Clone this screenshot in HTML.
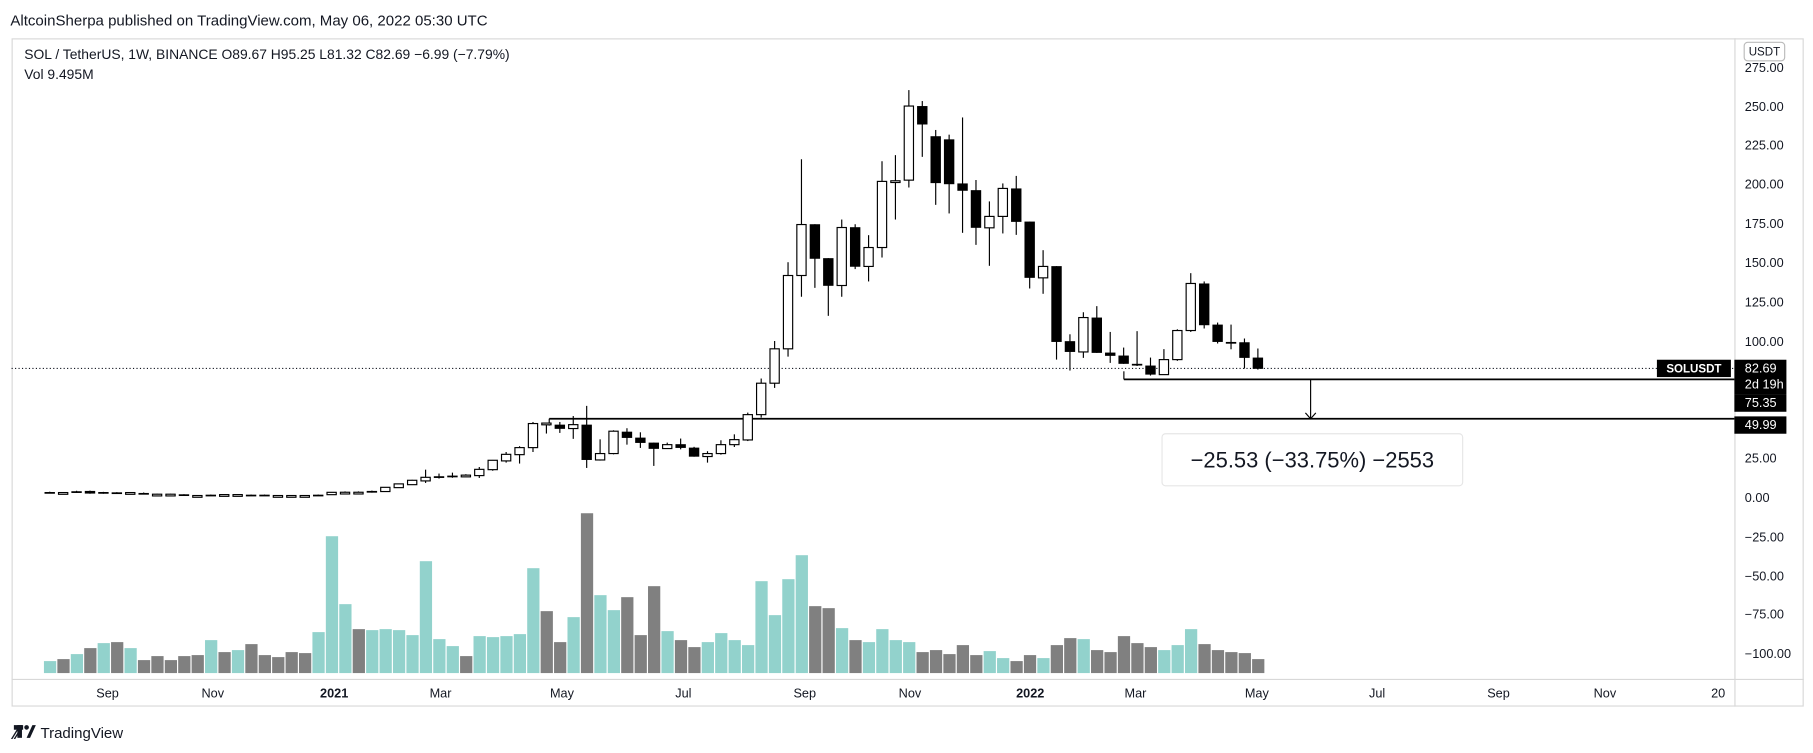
<!DOCTYPE html>
<html><head><meta charset="utf-8"><style>
html,body{margin:0;padding:0;background:#fff;width:1813px;height:753px;overflow:hidden}
svg{display:block}
text{font-family:"Liberation Sans",Arial,sans-serif}
</style></head><body>
<svg id="s" width="1813" height="753" viewBox="0 0 1568 651" xmlns="http://www.w3.org/2000/svg">
<rect width="1568" height="651" fill="#fff"/>
<text x="9" y="22" font-size="13" fill="#131722">AltcoinSherpa published on TradingView.com, May 06, 2022 05:30 UTC</text>
<rect x="10.5" y="33.5" width="1549" height="577" fill="none" stroke="#d8d8d8"/>
<line x1="1500.5" y1="33" x2="1500.5" y2="611" stroke="#d8d8d8"/>
<line x1="10" y1="587.5" x2="1560" y2="587.5" stroke="#d8d8d8"/>
<text x="21" y="51" font-size="12" fill="#131722">SOL / TetherUS, 1W, BINANCE  O89.67  H95.25  L81.32  C82.69  −6.99 (−7.79%)</text>
<text x="21" y="68" font-size="12" fill="#131722">Vol  9.495M</text>
<rect x="1508.5" y="36.5" width="35" height="16" rx="3" fill="#fff" stroke="#bbb"/>
<text x="1526" y="48" font-size="10" text-anchor="middle" fill="#131722">USDT</text>
<g font-size="11" fill="#131722">
<text x="1509" y="62">275.00</text><text x="1509" y="96">250.00</text><text x="1509" y="129">225.00</text>
<text x="1509" y="163">200.00</text><text x="1509" y="197">175.00</text><text x="1509" y="231">150.00</text>
<text x="1509" y="265">125.00</text><text x="1509" y="299">100.00</text>
<text x="1509" y="400">25.00</text><text x="1509" y="434">0.00</text>
<text x="1509" y="468">−25.00</text><text x="1509" y="502">−50.00</text><text x="1509" y="535">−75.00</text><text x="1509" y="569">−100.00</text>
</g>
<g font-size="11" fill="#131722" text-anchor="middle">
<text x="93" y="603">Sep</text><text x="184" y="603">Nov</text><text x="289" y="603" font-weight="bold">2021</text>
<text x="381" y="603">Mar</text><text x="486" y="603">May</text><text x="591" y="603">Jul</text>
<text x="696" y="603">Sep</text><text x="787" y="603">Nov</text><text x="891" y="603" font-weight="bold">2022</text>
<text x="982" y="603">Mar</text><text x="1087" y="603">May</text><text x="1191" y="603">Jul</text>
<text x="1296" y="603">Sep</text><text x="1388" y="603">Nov</text><text x="1486" y="603">20</text>
</g>
<g id="vol"></g>
<line x1="10" y1="318.5" x2="1500" y2="318.5" stroke="#131722" stroke-dasharray="1,2"/>
<line x1="972" y1="328" x2="1500" y2="328" stroke="#000" stroke-width="1.5"/>
<line x1="972" y1="321" x2="972" y2="328" stroke="#000"/>
<line x1="475" y1="362" x2="1500" y2="362" stroke="#000" stroke-width="1.5"/>
<line x1="475" y1="362" x2="475" y2="368" stroke="#000"/>
<line x1="1133.5" y1="328" x2="1133.5" y2="362" stroke="#000"/>
<path d="M1129 357 L1133.5 362 L1138 357" fill="none" stroke="#000"/>
<g id="cd"></g>
<rect x="1005" y="375" width="260" height="45" rx="3" fill="#fff" stroke="#e6e6e6"/>
<text x="1135" y="404" font-size="19" text-anchor="middle" fill="#131722">−25.53 (−33.75%) −2553</text>
<rect x="1433" y="311" width="64" height="15" fill="#000"/>
<text x="1465" y="322" font-size="10" font-weight="bold" text-anchor="middle" fill="#fff">SOLUSDT</text>
<rect x="1500" y="311" width="45" height="30" fill="#000"/>
<text x="1509" y="322" font-size="11" fill="#fff">82.69</text>
<text x="1509" y="336" font-size="11" fill="#fff">2d 19h</text>
<rect x="1500" y="341" width="45" height="15" fill="#000"/>
<text x="1509" y="352" font-size="11" fill="#fff">75.35</text>
<rect x="1500" y="360" width="45" height="15" fill="#000"/>
<text x="1509" y="371" font-size="11" fill="#fff">49.99</text>
<text x="12" y="639" font-size="14" font-weight="bold" fill="#131722">⁄⁄</text>
<rect x="12" y="627" width="8" height="4" fill="#131722"/><rect x="15" y="627" width="4" height="11" fill="#131722"/>
<circle cx="23" cy="629" r="2" fill="#131722"/><path d="M23 638 L28 627 L31 627 L26 638 Z" fill="#131722"/>
<text x="35" y="638" font-size="13" fill="#131722">TradingView</text>
</svg>
<script>
var C=[[3.4,3.6,2.5,2.6],[3,3.2,2.9,3.05],[3.9,4.2,2.9,3],[4.1,4.3,2.3,2.4],[3.4,3.5,2.3,2.4],[3.2,3.3,2.3,2.4],[3,3.3,2.8,3.05],[2.8,3.1,1.9,2],[1.95,2.3,1.8,2],[1.95,2.3,1.8,2],[1.95,2,0.9,0.9],[1.1,1.2,1,1.15],[1.7,1.8,0.9,0.9],[1.7,1.8,1.6,1.75],[1.7,1.8,1.6,1.75],[1.7,1.8,0.9,0.9],[1.7,1.8,0.9,0.9],[1.1,1.2,1,1.15],[1.1,1.2,1,1.15],[1.1,1.2,1,1.15],[1.7,1.8,0.9,0.9],[1.7,3.4,1.6,3.2],[3.2,3.8,3,3.25],[3.2,3.8,3,3.25],[4.1,4.3,3,3],[3.7,6.6,3.6,6.4],[6.2,8.8,6,8.6],[8.1,11.2,8,10.9],[10.5,17.7,9.2,12.8],[13.5,15.2,12,12.4],[13.9,15.8,12.5,13.1],[14.1,14.8,13.5,14.2],[13.9,19.4,12.4,17.9],[17.7,23.9,17,23.7],
[23.3,29,22.2,27.5],[27.3,32.7,21.6,31.8],[31.8,48.2,29,47.2],[47,47.6,40.8,47.5],[46.5,48.2,41.2,43.8],[44,52,37.4,46.5],[46.5,58.5,18.8,23.9],[23.9,37.1,23.5,28],[28,42.9,27.5,42.3],[42,44.2,33.7,38],[38.2,41.6,31.6,34.8],[35,35,20.1,31],[31.2,35,31,33.7],[34,37.6,30.7,31.6],[31.8,32.3,26,26],[26.1,29.5,22.2,28],[28,36.5,27.3,33.7],[33.7,40.3,32.2,36.9],[36.7,54.2,36,52.9],[52.9,76,51,73],[73,100,70,95],[95,150.4,90,141.9],[141.9,216.3,128.3,174.5],[174.7,174.7,134,152.6],[153,153,116.1,135.3],[135.5,177.7,128.3,172.6],[172.8,174.7,146,147.5],[147.7,167.7,138.1,159.8],[159.8,215,153.4,202.1],[202.4,218.9,177.7,202.5],[202.9,260.5,198.2,250.3],[250.3,253.5,217.8,238.5],[231,235,187.1,201],[229,232,181.6,200.3],[200.8,243,169.2,196.1],[196.5,203,161.5,172.4],[172.4,189.3,148.1,179.7],[179.7,200.8,168.8,197.6],[197.6,205.6,167.9,176.2],[176.4,176.4,133.6,140.4],[140.4,158.1,130.2,147.7],[147.9,147.9,88.1,99.4],[99.9,104.3,81.1,93],[93,118.4,89.2,115],[115,122.3,92.4,92.4],[92.6,105.8,86,90.5],[90.7,95.8,85.4,85.4],[85.4,106.3,84,84.3],[84.3,89.4,77.9,78.5],[78.5,94.8,78.5,88.1],[88.1,107.5,87.3,106.7],[106.7,143.4,105.8,136.8],[136.8,138.1,108,110.1],[110.5,111.8,98.4,99.4],[99.4,110.5,94.7,99],[99.2,101.6,82.4,89.2],[89.4,95.2,81.7,82.2]];
var V="t486 g480 t465 g447 t432 g429 t447 g483 g471 g483 g471 g468 t423 g459 t453 g435 g468 g474 g459 g462 t399 t111 t315 g390 t393 t390 t393 t408 t186 t420 t441 g471 t411 t414 t411 t405 t207 g336 g429 t354 g42 t288 t333 g294 g408 g261 t396 g423 g444 t429 t402 t423 t438 t246 t348 t240 t168 g321 g327 t387 g423 t429 t390 t423 t429 g459 g453 g465 g438 g468 t456 t477 g486 g468 t477 g438 g417 t420 g453 g459 g411 g432 g444 t453 t438 t390 g435 g453 g459 g462 g480".split(" ");
var ns="http://www.w3.org/2000/svg";
function X(i){return 43+11.61*i}
function Y(p){return 430-p*1.352}
function el(t,a,par){var e=document.createElementNS(ns,t);for(var k in a)e.setAttribute(k,a[k]);par.appendChild(e);return e}
var vg=document.getElementById("vol"),cg=document.getElementById("cd");
V.forEach(function(v,i){var h=(522-parseInt(v.slice(1)))*0.288;el("rect",{x:X(i)-5,y:582-h,width:10.6,height:h,fill:v[0]=="t"?"#92d2cc":"#808080"},vg)});
C.forEach(function(c,i){var x=X(i),o=c[0],h=c[1],l=c[2],cl=c[3];
el("line",{x1:x,x2:x,y1:Y(h),y2:Y(l),stroke:"#000","stroke-width":1},cg);
var t=Y(Math.max(o,cl)),b=Y(Math.min(o,cl)),hh=Math.max(b-t,1.5);
if(cl>=o)el("rect",{x:x-4,y:t,width:8,height:hh,fill:"#fff",stroke:"#000","stroke-width":1},cg);
else el("rect",{x:x-4.5,y:t,width:9,height:hh,fill:"#000"},cg);});
</script>
</body></html>
